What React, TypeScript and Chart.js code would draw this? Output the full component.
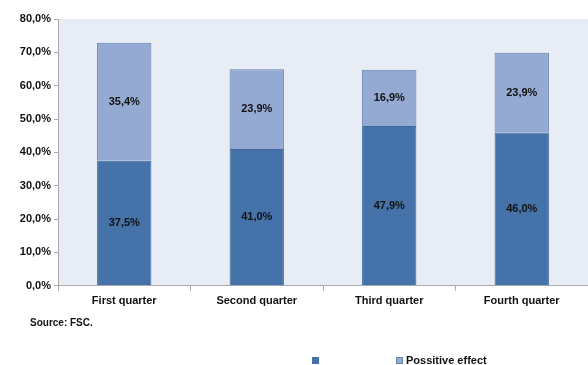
import React, { useEffect, useRef } from "react";
import { Chart, registerables } from "chart.js";

Chart.register(...registerables);

const categories = ["First quarter", "Second quarter", "Third quarter", "Fourth quarter"];
const baseValues = [37.5, 41.0, 47.9, 46.0];
const positiveValues = [35.4, 23.9, 16.9, 23.9];
const seriesNames = ["", "Possitive effect"];
const sourceText = "Source: FSC.";

const DARK = "#4572a8";
const LIGHT = "#95aad3";
const FONT = "'Liberation Sans', Arial, sans-serif";

const fmt = (v: number) => v.toFixed(1).replace(".", ",") + "%";

export default function App() {
  const ref = useRef<HTMLCanvasElement | null>(null);
  useEffect(() => {
    if (!ref.current) return;
    const bgPlugin = {
      id: "bg",
      beforeDraw(chart: any) {
        const { ctx, chartArea } = chart;
        ctx.save();
        ctx.fillStyle = "#e8ecf4";
        ctx.fillRect(chartArea.left, chartArea.top, chartArea.right - chartArea.left, chartArea.bottom - chartArea.top);
        ctx.restore();
      },
    };
    const labelPlugin = {
      id: "lbl",
      afterDatasetsDraw(chart: any) {
        const { ctx } = chart;
        ctx.save();
        ctx.font = `bold 11px ${FONT}`;
        ctx.fillStyle = "#111";
        ctx.textAlign = "center";
        ctx.textBaseline = "middle";
        chart.data.datasets.forEach((ds: any, i: number) => {
          const meta = chart.getDatasetMeta(i);
          meta.data.forEach((bar: any, j: number) => {
            const y = (bar.y + bar.base) / 2;
            ctx.fillText(fmt(ds.data[j]), bar.x, y);
          });
        });
        // footer: source + legend
        ctx.textAlign = "left";
        ctx.font = `bold 10px ${FONT}`;
        ctx.fillText(sourceText, 30, 323);
        ctx.fillStyle = DARK;
        ctx.fillRect(312, 357, 7, 7);
        ctx.fillStyle = LIGHT;
        ctx.fillRect(396, 357, 7, 7);
        ctx.strokeStyle = "#6d86b4";
        ctx.lineWidth = 1;
        ctx.strokeRect(396.5, 357.5, 6, 6);
        ctx.fillStyle = "#111";
        ctx.font = `bold 11px ${FONT}`;
        ctx.fillText(seriesNames[0], 324, 361);
        ctx.fillText(seriesNames[1], 406, 361);
        ctx.restore();
      },
    };
    const chart = new Chart(ref.current, {
      type: "bar",
      data: {
        labels: categories,
        datasets: [
          {
            label: seriesNames[0],
            data: baseValues,
            backgroundColor: DARK,
            borderColor: "#3d679a",
            borderWidth: 1,
            categoryPercentage: 1,
            barPercentage: 0.41,
          },
          {
            label: seriesNames[1],
            data: positiveValues,
            backgroundColor: LIGHT,
            borderColor: "#5f7fb0",
            borderWidth: 1,
            categoryPercentage: 1,
            barPercentage: 0.41,
          },
        ],
      },
      options: {
        animation: false,
        responsive: false,
        layout: { padding: { top: 19, right: 0, bottom: 53, left: 0 } },
        plugins: { legend: { display: false }, tooltip: { enabled: false } },
        scales: {
          x: {
            stacked: true,
            grid: { display: true, drawOnChartArea: false, offset: true, tickLength: 5, color: "#aaaaaa" },
            border: { color: "#aaaaaa" },
            ticks: { color: "#111", font: { family: FONT, size: 11, weight: "bold" }, padding: 4 },
          },
          y: {
            stacked: true,
            min: 0,
            max: 80,
            grid: { display: true, drawOnChartArea: false, tickLength: 4, color: "#aaaaaa" },
            border: { color: "#aaaaaa" },
            ticks: {
              stepSize: 10,
              color: "#111",
              font: { family: FONT, size: 11, weight: "bold" },
              padding: 3,
              callback: (v: any) => fmt(Number(v)),
            },
            afterFit(scale: any) {
              scale.width = 58;
            },
          },
        },
      },
      plugins: [bgPlugin, labelPlugin],
    } as any);
    return () => chart.destroy();
  }, []);
  return (
    <div style={{ position: "fixed", left: 0, top: 0, width: 588, height: 365, background: "#fff" }}>
      <canvas ref={ref} width={588} height={365} style={{ display: "block" }} />
    </div>
  );
}
